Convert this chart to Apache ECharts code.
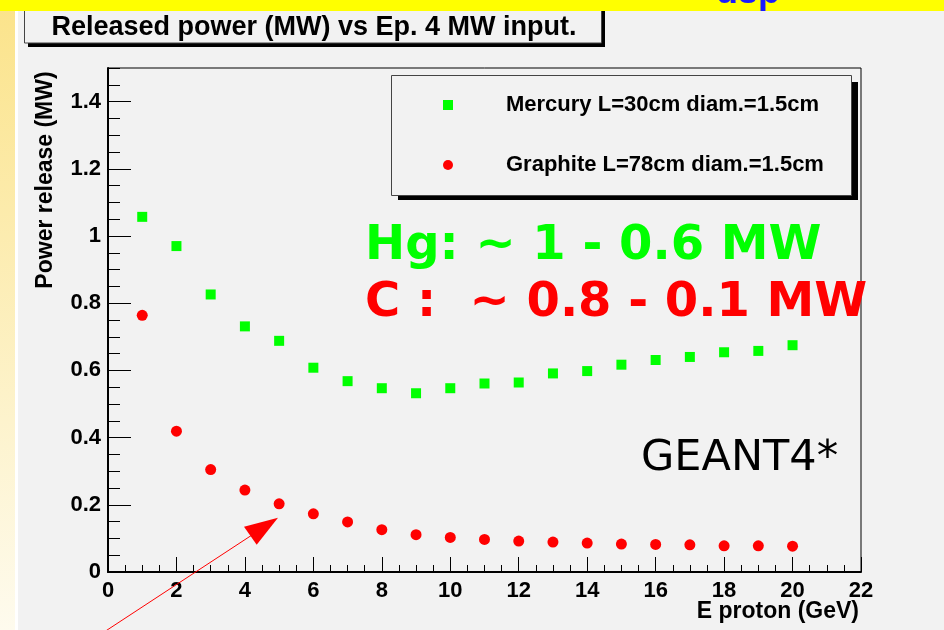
<!DOCTYPE html>
<html><head><meta charset="utf-8">
<script src="https://cdn.jsdelivr.net/npm/echarts@6/dist/echarts.min.js"></script>
<style>html,body{margin:0;padding:0;background:#f2f2f2}#c{width:944px;height:630px}</style>
</head><body><div id="c"></div>
<script>
// ---- data ----
const energies = [1,2,3,4,5,6,7,8,9,10,11,12,13,14,15,16,17,18,19,20];
const mercury  = [1.057,0.970,0.826,0.731,0.688,0.608,0.568,0.547,0.532,0.547,0.561,0.564,0.591,0.598,0.617,0.631,0.640,0.654,0.658,0.675];
const graphite = [0.764,0.419,0.305,0.244,0.203,0.173,0.149,0.126,0.111,0.103,0.097,0.092,0.089,0.086,0.083,0.082,0.081,0.078,0.078,0.077];
const seriesNames = ['Mercury L=30cm diam.=1.5cm', 'Graphite L=78cm diam.=1.5cm'];
const titleText = 'Released power (MW) vs Ep. 4 MW input.';
const xTitle = 'E proton (GeV)';
const yTitle = 'Power release (MW)';
const notes = ['Hg: ~ 1 - 0.6 MW', 'C :  ~ 0.8 - 0.1 MW', 'GEANT4*'];

const FONT = 'Liberation Sans';
const chart = echarts.init(document.getElementById('c'), null, {renderer: 'canvas'});
const lbl = {color: '#000', fontFamily: FONT, fontWeight: 'bold', fontSize: 22};

const option = {
  animation: false,
  backgroundColor: '#f2f2f2',
  grid: {left: 108, top: 68, width: 753, height: 504, show: true, borderColor: '#000', borderWidth: 1, backgroundColor: 'transparent'},
  xAxis: {
    type: 'value', min: 0, max: 22, interval: 2,
    axisLine: {show: true, onZero: false, lineStyle: {color: '#000', width: 2}},
    axisTick: {show: true, inside: true, length: 15, lineStyle: {color: '#000', width: 1}},
    minorTick: {show: true, splitNumber: 4, length: 7, lineStyle: {color: '#000', width: 1}},
    splitLine: {show: false}, minorSplitLine: {show: false},
    axisLabel: Object.assign({margin: 8}, lbl)
  },
  yAxis: [{
    type: 'value', min: 0, max: 1.5, interval: 0.2,
    axisLine: {show: true, onZero: false, lineStyle: {color: '#000', width: 2}},
    axisTick: {show: true, inside: true, length: 23, lineStyle: {color: '#000', width: 1}},
    splitLine: {show: false},
    axisLabel: Object.assign({margin: 7, showMaxLabel: false}, lbl)
  }, {
    type: 'value', min: 0, max: 1.5, interval: 0.05, position: 'left',
    axisLine: {show: false},
    axisTick: {show: true, inside: true, length: 12, lineStyle: {color: '#000', width: 1}},
    splitLine: {show: false},
    axisLabel: {show: false}
  }],
  legend: {
    orient: 'vertical', left: 443, top: 93, padding: 0,
    itemWidth: 10, itemHeight: 10, itemGap: 36, selectedMode: false, z: 6,
    data: seriesNames,
    textStyle: Object.assign({padding: [0, 0, 0, 48], lineHeight: 24}, lbl)
  },
  series: [{
    type: 'scatter', name: seriesNames[0], symbol: 'rect', symbolSize: 10,
    itemStyle: {color: '#00ff00', opacity: 1},
    data: energies.map((e, i) => [e, mercury[i]])
  }, {
    type: 'scatter', name: seriesNames[1], symbol: 'circle', symbolSize: 11,
    itemStyle: {color: '#ff0000', opacity: 1},
    data: energies.map((e, i) => [e, graphite[i]])
  }],
  graphic: [
    // slide decorations
    {type: 'rect', z: 50, shape: {x: 0, y: 0, width: 15, height: 630},
     style: {fill: new echarts.graphic.LinearGradient(0, 0, 0, 1, [{offset: 0, color: '#fbe38a'}, {offset: 1, color: '#fefbee'}])}},
    {type: 'rect', z: 50, shape: {x: 15, y: 0, width: 3, height: 630}, style: {fill: '#ffffff'}},
    // title box
    {type: 'rect', z: 40, shape: {x: 28, y: 0, width: 577, height: 47}, style: {fill: '#000'}},
    {type: 'rect', z: 41, shape: {x: 24.5, y: -3, width: 577, height: 46}, style: {fill: '#f2f2f2', stroke: '#444', lineWidth: 1}},
    {type: 'text', z: 42, x: 314, y: 28, style: {text: titleText, fill: '#000', font: 'bold 27px "Liberation Sans"', textAlign: 'center', textVerticalAlign: 'middle'}},
    // top banner
    {type: 'rect', z: 60, shape: {x: 0, y: 0, width: 944, height: 11}, style: {fill: '#ffff00'}},
    {type: 'text', z: 61, x: 716, y: 11, style: {text: 'dsp', fill: '#1a1aff', font: 'bold 36px "Liberation Sans"', textAlign: 'left', textVerticalAlign: 'bottom'}},
    // legend box
    {type: 'rect', z: 3, shape: {x: 398, y: 82, width: 460, height: 118}, style: {fill: '#000'}},
    {type: 'rect', z: 4, shape: {x: 391.5, y: 75.5, width: 460, height: 120}, style: {fill: '#f2f2f2', stroke: '#444', lineWidth: 1}},
    // annotations
    {type: 'text', z: 10, x: 365, y: 247, style: {text: notes[0], fill: '#00ff00', font: 'bold 48px "DejaVu Sans"', textVerticalAlign: 'middle'}},
    {type: 'text', z: 10, x: 365, y: 304, style: {text: notes[1], fill: '#ff0000', font: 'bold 48px "DejaVu Sans"', textVerticalAlign: 'middle'}},
    {type: 'text', z: 10, x: 641, y: 459, style: {text: notes[2], fill: '#000', font: '43px "DejaVu Sans"', textVerticalAlign: 'middle'}},
    // axis titles
    {type: 'text', z: 10, x: 46, y: 180, rotation: Math.PI / 2, style: {text: yTitle, fill: '#000', font: 'bold 23px "Liberation Sans"', textAlign: 'center', textVerticalAlign: 'middle'}},
    {type: 'text', z: 10, x: 859, y: 612, style: {text: xTitle, fill: '#000', font: 'bold 23px "Liberation Sans"', textAlign: 'right', textVerticalAlign: 'middle'}},
    // red arrow
    {type: 'polyline', z: 10, shape: {points: [[98, 636], [252, 535]]}, style: {stroke: '#ff0000', lineWidth: 1, fill: null}},
    {type: 'polygon', z: 10, shape: {points: [[278, 517.7], [244, 526.7], [256.7, 544.7]]}, style: {fill: '#ff0000'}}
  ]
};
chart.setOption(option);
</script></body></html>
